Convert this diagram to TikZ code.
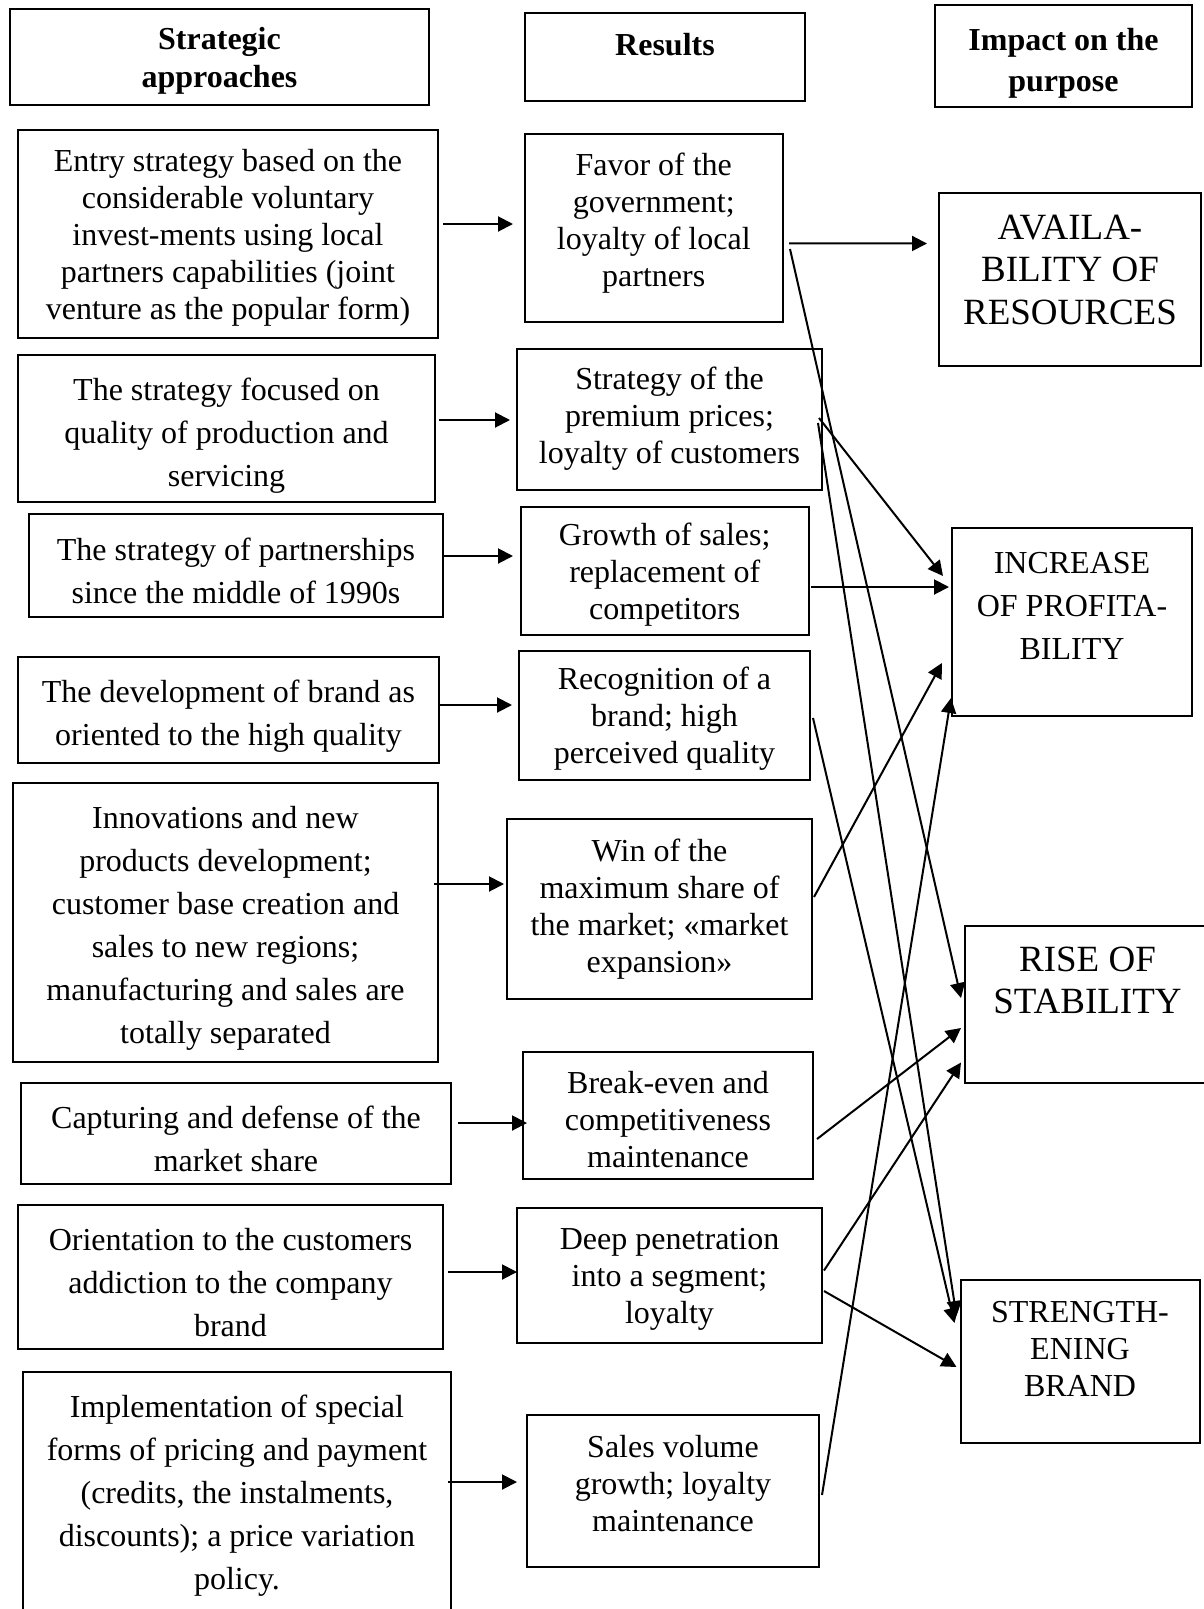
\documentclass[tikz,border=0pt]{standalone}
\usepackage{fontspec}
\setmainfont{Liberation Serif}
\usetikzlibrary{arrows.meta}

\tikzset{
    box/.style={draw, line width=2pt, align=center, inner sep=0pt,
        font=\fontsize{32}{37}\selectfont},
    wide/.style={font=\fontsize{32}{43}\selectfont},
    big/.style={font=\fontsize{37}{42.5}\selectfont},
    head/.style={font=\bfseries\fontsize{32}{38}\selectfont},
    sz/.style 2 args={minimum width=#1pt, minimum height=#2pt},
    arr/.style={line width=2pt, -{Triangle[length=15pt,width=15pt]}},
}

\begin{document}
\begin{tikzpicture}[x=1pt,y=-1pt]
            \useasboundingbox (0,0) rectangle (1203,1609);

            \node[box,head,sz={419}{96},text depth=-3pt] (h1) at (219.5,57) {Strategic\\approaches};
            \node[box,head,sz={280}{88},text depth=26pt] (h2) at (665,57) {Results};
            \node[box,head,sz={257}{102},font=\bfseries\fontsize{32}{41}\selectfont,text height=71pt,text depth=0pt] (h3) at (1063.5,56) {Impact on the\\purpose};

            \node[box,sz={420}{208},text depth=-3pt] (L1) at (228,234) {Entry strategy based on the\\considerable voluntary\\invest-ments using local\\partners capabilities (joint\\venture as the popular form)};
            \node[box,wide,sz={417}{147},text height=116pt,text depth=0pt] (L2) at (226.5,428.5) {The strategy focused on\\quality of production and\\servicing};
            \node[box,wide,sz={414}{103},text height=75pt,text depth=0pt] (L3) at (236,565.5) {The strategy of partnerships\\since the middle of 1990s};
            \node[box,wide,sz={421}{106},text height=71pt,text depth=0pt] (L4) at (228.5,710) {The development of brand as\\oriented to the high quality};
            \node[box,wide,sz={425}{279},text height=241pt,text depth=0pt] (L5) at (225.5,922.5) {Innovations and new\\products development;\\customer base creation and\\sales to new regions;\\manufacturing and sales are\\totally separated};
            \node[box,wide,sz={430}{101},text height=75pt,text depth=0pt] (L6) at (236,1133.5) {Capturing and defense of the\\market share};
            \node[box,wide,sz={425}{144},text height=118pt,text depth=0pt] (L7) at (230.5,1277) {Orientation to the customers\\addiction to the company\\brand};
            \node[box,wide,sz={428}{248}] (L8) at (237,1496) {Implementation of special\\forms of pricing and payment\\(credits, the instalments,\\discounts); a price variation\\policy.};

            \node[box,sz={258.5}{188},text depth=17pt] (M1) at (653.75,228) {Favor of the\\government;\\loyalty of local\\partners};
            \node[box,sz={305}{141},text depth=8pt] (M2) at (669.5,419) {Strategy of the\\premium prices;\\loyalty of customers};
            \node[box,sz={288.5}{128},text depth=-3pt] (M3) at (664.75,571) {Growth of sales;\\replacement of\\competitors};
            \node[box,sz={291}{129},text depth=-3pt] (M4) at (664.5,715.5) {Recognition of a\\brand; high\\perceived quality};
            \node[box,sz={305}{180}] (M5) at (659.5,909) {Win of the\\maximum share of\\the market; «market\\expansion»};
            \node[box,sz={290}{127},text height=104pt,text depth=0pt] (M6) at (668,1115.5) {Break-even and\\competitiveness\\maintenance};
            \node[box,sz={305}{135},text depth=-1pt] (M7) at (669.5,1275.5) {Deep penetration\\into a segment;\\loyalty};
            \node[box,sz={292}{152},text depth=15pt] (M8) at (673,1491) {Sales volume\\growth; loyalty\\maintenance};

            \node[box,big,sz={262}{173},text depth=20pt] (R1) at (1070,279.5) {AVAILA-\\BILITY OF\\RESOURCES};
            \node[box,wide,sz={240}{188},text depth=32pt] (R2) at (1072,622) {INCREASE\\OF PROFITA-\\BILITY};
            \node[box,big,sz={245}{157},text depth=49pt] (R3) at (1087.5,1004.5) {RISE OF\\STABILITY};
            \node[box,sz={239}{163},text depth=24pt] (R4) at (1080,1361) {STRENGTH-\\ENING\\BRAND};

            \foreach \i/\sx/\sy/\ex/\ey in {1/4/-10/-10.5/-4, 2/3/-8.5/-6/1, 3/0/-9.5/-6.5/-15, 4/0/-5/-6/-10.5,
                    5/-5/-38.5/-2/-25, 6/6/-10.5/5/7.5, 7/4/-5/1/-3.5, 8/-4/-14/-9/-9} {
                    \draw[arr] ([shift={(\sx,\sy)}]L\i.east) -- ([shift={(\ex,\ey)}]M\i.west);
                }

            \foreach \a/\b/\sx/\sy/\ex/\ey in {M1/R1/5/15.3/-11/-36, M1/R3/6/21/-3/-6.5, M2/R2/-4/-1/-8/-46,
                    M2/R4/-5/4/-3/-45, M3/R2/1/16/-2/-35, M4/R4/2/2.5/-5/-38, M5/R2/1/-12/-9/41,
                    M6/R3/3/23.5/-3/23.5, M7/R3/1/-5/-3/58, M7/R4/1/15.5/-3/6, M8/R2/2/4/0/76} {
                    \draw[arr] ([shift={(\sx,\sy)}]\a.east) -- ([shift={(\ex,\ey)}]\b.west);
                }
        \end{tikzpicture}
\end{document}
